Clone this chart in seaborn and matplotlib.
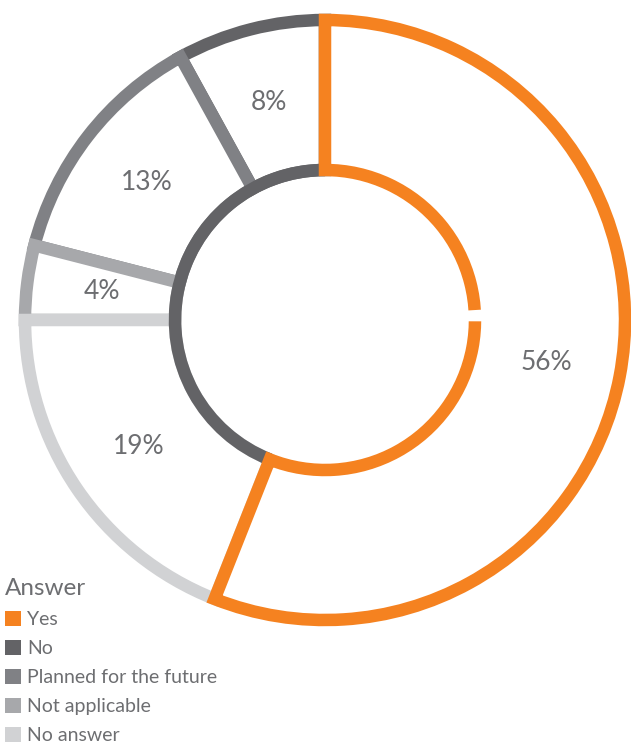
import matplotlib
matplotlib.use("Agg")
import matplotlib.pyplot as plt
from matplotlib.patches import Arc, Patch
import seaborn as sns

# Survey answers and their shares (%)
answers = ["Yes", "No", "Planned for the future", "Not applicable", "No answer"]
shares = [56, 8, 13, 4, 19]
colors = ["#F58220", "#636366", "#808185", "#A7A8AB", "#D1D2D4"]
# order of the slices around the ring, counterclockwise from 12 o'clock
ring_order = ["No", "Planned for the future", "Not applicable", "No answer", "Yes"]

sns.set_theme(style="white")
plt.rcParams["font.family"] = ["Lato", "DejaVu Sans"]
text_color = "#6D6E71"

W, H = 631, 751
fig = plt.figure(figsize=(W / 100, H / 100), dpi=100)
cx, cy, R = 325, 320, 300          # ring centre (px from top) and outer radius (px)
half = 312
ax = fig.add_axes([(cx - half) / W, (H - cy - half) / H, 2 * half / W, 2 * half / H])

share_of = dict(zip(answers, shares))
color_of = dict(zip(answers, colors))
vals = [share_of[a] for a in ring_order]
cols = [color_of[a] for a in ring_order]

lw = 9
wedges, texts, autotexts = ax.pie(
    vals, startangle=90, counterclock=True, radius=1,
    autopct=lambda p: f"{p:.0f}%", pctdistance=0.75,
    wedgeprops=dict(width=0.5, facecolor="white", linewidth=lw),
    textprops=dict(color=text_color, fontsize=19),
)
for w, c in zip(wedges, cols):
    w.set_edgecolor(c)
wedges[-1].set_zorder(3)

# inner rim of the grey slices in one dark tone
grey_total = sum(v for a, v in zip(ring_order, vals) if a != "Yes")
ax.add_patch(Arc((0, 0), 1.0, 1.0, theta1=90, theta2=90 + 360 * grey_total / 100,
                 color=color_of["No"], linewidth=lw, zorder=2))
# small break in the inner rim on the right
ax.add_patch(Arc((0, 0), 1.0, 1.0, theta1=-0.5, theta2=3.8,
                 color="white", linewidth=lw + 2, zorder=4))

ax.set_xlim(-half / R, half / R)
ax.set_ylim(-half / R, half / R)
ax.set_aspect("equal")
ax.axis("off")

handles = [Patch(facecolor=color_of[a], edgecolor="none", label=a) for a in answers]
leg = fig.legend(
    handles=handles, title="Answer", loc="upper left",
    bbox_to_anchor=(5 / W, 1 - 578 / H), frameon=False,
    fontsize=14, title_fontsize=17.5, alignment="left",
    handlelength=0.82, handleheight=0.82, handletextpad=0.3,
    labelspacing=0.6, borderaxespad=0, borderpad=0,
)
for t in leg.get_texts():
    t.set_color(text_color)
leg.get_title().set_color(text_color)

fig.savefig("out.png", dpi=100, facecolor="white")
